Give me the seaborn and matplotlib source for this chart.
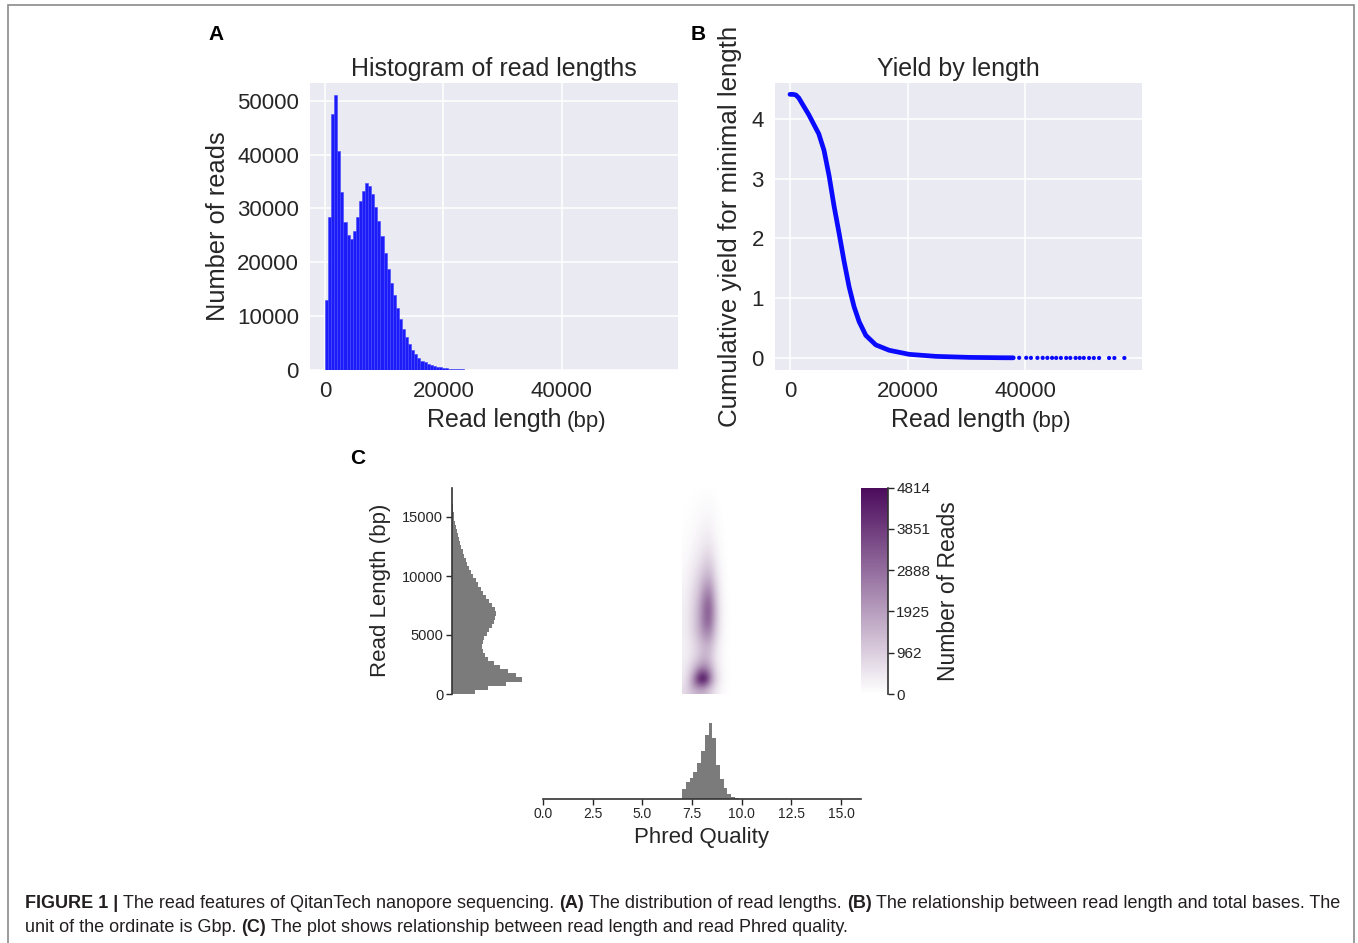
import numpy as np
import matplotlib
matplotlib.use("Agg")
import matplotlib.pyplot as plt
import seaborn as sns
from matplotlib.colors import LinearSegmentedColormap
from matplotlib.patches import Rectangle

# ------------------------------------------------------------------ data
# Panel A: histogram of read lengths (bins of 520 bp starting at 0)
read_bin_width = 520
read_counts = [13000, 28500, 47500, 51000, 40700, 33000, 27500, 25100, 24400, 25900,
               28500, 31300, 33200, 34700, 34200, 32700, 30300, 27700, 24800, 21700,
               18800, 16200, 13900, 11600, 9500, 7600, 6200, 4800, 3800, 3000,
               2300, 1700, 1400, 1100, 900, 750, 620, 500, 380, 310,
               250, 200, 160, 130, 100, 80, 60, 45, 35, 25]

# Panel B: cumulative yield (Gbp) for minimal read length
yield_length = [0, 500, 1000, 1500, 2100, 3200, 4100, 4900, 5800, 6650, 7500, 8350,
                9200, 10060, 10900, 11760, 12900, 14600, 16880, 20280, 24830, 30500,
                36000, 38000]
yield_gbp = [4.41, 4.41, 4.40, 4.35, 4.25, 4.07, 3.90, 3.75, 3.47, 3.05, 2.54, 2.09,
             1.62, 1.19, 0.86, 0.61, 0.38, 0.22, 0.13, 0.062, 0.028, 0.011,
             0.005, 0.004]
yield_tail_length = [39000, 40200, 41000, 42100, 43000, 43800, 44600, 45300, 46100,
                     47000, 47700, 48600, 49300, 50000, 50900, 51700, 52600, 54300,
                     55200, 56900]
yield_tail_gbp = [0.004, 0.004, 0.003, 0.003, 0.003, 0.003, 0.003, 0.002, 0.002,
                  0.002, 0.002, 0.002, 0.002, 0.002, 0.001, 0.001, 0.001, 0.001,
                  0.001, 0.001]

# Panel C: marginal read length histogram (bins of 350 bp from 0)
len_bin_width = 350
len_counts = [70, 110, 165, 213, 195, 170, 148, 128, 110, 100,
              95, 93, 94, 98, 106, 114, 122, 128, 131, 133,
              130, 122, 113, 104, 96, 88, 80, 73, 66, 60,
              54, 48, 43, 38, 34, 30, 26, 22, 19, 16,
              13, 11, 9, 7, 6, 4, 3, 2, 1, 1]

# Panel C: marginal Phred quality histogram
qual_bin_start = 7.0
qual_bin_width = 0.19
qual_counts = [30, 52, 64, 82, 107, 144, 192, 227, 182, 102, 59, 34, 15, 5, 2]

# Panel C: 2D density of reads, rows = read length (500 bp bins, 0-17500),
# columns = Phred quality (0.25 bins, 7.0-9.75)
hex_qual_range = [7.0, 9.75]
hex_len_range = [0, 17500]
hex_counts = [
    [700, 1100, 1400, 1600, 1500, 1100, 600, 250, 80, 20, 0],
    [600, 1300, 2200, 3000, 2900, 1900, 900, 350, 100, 30, 0],
    [500, 1200, 2600, 4400, 4814, 2900, 1200, 450, 130, 30, 0],
    [450, 1000, 2000, 3500, 3800, 2600, 1100, 400, 120, 30, 0],
    [400, 800, 1400, 2200, 2500, 1900, 900, 350, 100, 20, 0],
    [350, 600, 1000, 1500, 1800, 1500, 750, 300, 90, 20, 0],
    [300, 500, 800, 1200, 1500, 1300, 700, 280, 80, 20, 0],
    [300, 480, 750, 1100, 1450, 1400, 750, 300, 90, 20, 0],
    [300, 500, 800, 1200, 1600, 1600, 900, 350, 100, 20, 0],
    [320, 550, 900, 1400, 1900, 2000, 1100, 420, 110, 25, 0],
    [330, 600, 1000, 1600, 2300, 2400, 1300, 480, 120, 25, 0],
    [340, 620, 1050, 1700, 2600, 2800, 1500, 520, 130, 25, 0],
    [340, 620, 1050, 1750, 2800, 3100, 1650, 550, 130, 25, 0],
    [330, 610, 1050, 1750, 2850, 3200, 1700, 560, 130, 25, 0],
    [320, 590, 1000, 1700, 2800, 3200, 1700, 550, 130, 25, 0],
    [300, 560, 950, 1600, 2650, 3000, 1600, 520, 120, 20, 0],
    [280, 520, 880, 1450, 2400, 2750, 1450, 480, 110, 20, 0],
    [250, 470, 800, 1300, 2100, 2400, 1300, 430, 100, 20, 0],
    [220, 420, 700, 1150, 1800, 2050, 1100, 380, 90, 15, 0],
    [190, 370, 620, 1000, 1500, 1700, 950, 330, 80, 15, 0],
    [160, 320, 530, 850, 1250, 1400, 800, 280, 70, 10, 0],
    [140, 270, 450, 720, 1050, 1150, 670, 240, 60, 10, 0],
    [120, 230, 380, 600, 870, 950, 560, 200, 50, 10, 0],
    [100, 190, 320, 500, 720, 780, 460, 170, 40, 5, 0],
    [85, 160, 270, 410, 590, 640, 380, 140, 35, 5, 0],
    [70, 130, 220, 340, 480, 520, 310, 110, 30, 5, 0],
    [55, 105, 180, 280, 390, 420, 250, 90, 25, 0, 0],
    [45, 85, 145, 225, 315, 340, 200, 75, 20, 0, 0],
    [35, 70, 115, 180, 250, 270, 160, 60, 15, 0, 0],
    [28, 55, 90, 140, 200, 215, 130, 50, 10, 0, 0],
    [22, 42, 70, 110, 155, 170, 100, 40, 8, 0, 0],
    [17, 32, 55, 85, 120, 130, 80, 30, 6, 0, 0],
    [12, 24, 40, 65, 90, 100, 60, 22, 5, 0, 0],
    [8, 17, 28, 45, 65, 70, 42, 15, 3, 0, 0],
    [5, 10, 17, 28, 40, 45, 27, 10, 2, 0, 0],
]
cbar_ticks = [0, 962, 1925, 2888, 3851, 4814]

# ------------------------------------------------------------------ style
sns.set_theme(style="ticks")
plt.rcParams['font.family'] = ['Liberation Sans', 'DejaVu Sans']
TXT = '#262626'

W, H = 1358, 943
fig = plt.figure(figsize=(W / 100, H / 100), dpi=100)


def px_axes(x0, y0, x1, y1):
    return fig.add_axes([x0 / W, 1 - y1 / H, (x1 - x0) / W, (y1 - y0) / H])


def darkgrid(ax):
    ax.set_facecolor('#EAEAF2')
    ax.grid(True, color='white', linewidth=1.1)
    ax.set_axisbelow(True)
    for s in ax.spines.values():
        s.set_visible(False)
    ax.tick_params(length=0, labelsize=16, colors=TXT, pad=8)


# ------------------------------------------------------------------ panel A
axA = px_axes(310, 83, 678, 370)
darkgrid(axA)
edgesA = [i * read_bin_width for i in range(len(read_counts) + 1)]
centersA = [e + read_bin_width / 2 for e in edgesA[:-1]]
sns.histplot(x=centersA, weights=read_counts, bins=edgesA, color='#1c1cf8', alpha=1,
             edgecolor='#4545ff', linewidth=0.4, ax=axA)
axA.set_xlim(-2530, 59600)
axA.set_ylim(0, 53300)
axA.set_xticks([0, 20000, 40000])
axA.set_yticks(range(0, 50001, 10000))
axA.set_title('Histogram of read lengths', fontsize=18, color=TXT, pad=5)
axA.set_xlabel('Read length', fontsize=18, color=TXT, labelpad=4)
axA.set_ylabel('Number of reads', fontsize=18.3, color=TXT, labelpad=5)
axA.annotate('(bp)', xy=(1, 0), xycoords=axA.xaxis.label, xytext=(4, 0),
             textcoords='offset points', fontsize=16, color=TXT, va='bottom', ha='left')

# ------------------------------------------------------------------ panel B
axB = px_axes(775, 83, 1142, 370)
darkgrid(axB)
sns.lineplot(x=yield_length, y=yield_gbp, color='#0a0aff', linewidth=3.4,
             solid_capstyle='round', ax=axB)
sns.scatterplot(x=yield_tail_length, y=yield_tail_gbp, color='#0a0aff', s=9,
                edgecolor='none', ax=axB)
axB.set_xlim(-2550, 59900)
axB.set_ylim(-0.2, 4.6)
axB.set_xticks([0, 20000, 40000])
axB.set_yticks([0, 1, 2, 3, 4])
axB.set_title('Yield by length', fontsize=18, color=TXT, pad=5)
axB.set_xlabel('Read length', fontsize=18, color=TXT, labelpad=4)
axB.set_ylabel('Cumulative yield for minimal length', fontsize=18.6, color=TXT, labelpad=7)
axB.annotate('(bp)', xy=(1, 0), xycoords=axB.xaxis.label, xytext=(4, 0),
             textcoords='offset points', fontsize=16, color=TXT, va='bottom', ha='left')

# ------------------------------------------------------------------ panel C
cmap = LinearSegmentedColormap.from_list('reads', ['#ffffff', '#4b0b5c'])
cmap.set_under('white')

axH = px_axes(543, 487.5, 861, 694)
im = axH.imshow(np.array(hex_counts, dtype=float),
                extent=[hex_qual_range[0], hex_qual_range[1], hex_len_range[0], hex_len_range[1]],
                origin='lower', aspect='auto', cmap=cmap, vmin=0, vmax=max(cbar_ticks),
                interpolation='bicubic')
axH.set_xlim(0, 16)
axH.set_ylim(0, 17500)
axH.axis('off')

GRAY = '#7b7b7b'
# left marginal: read length
axL = px_axes(451.5, 487.5, 545, 694)
len_edges = [i * len_bin_width for i in range(len(len_counts) + 1)]
len_centers = [e + len_bin_width / 2 for e in len_edges[:-1]]
sns.histplot(y=len_centers, weights=len_counts, bins=len_edges, element='step', color=GRAY,
             alpha=1, linewidth=0, ax=axL)
axL.set_ylim(0, 17500)
axL.set_xlim(0, max(len_counts) * 93.5 / 70.5)
for s in ['top', 'right', 'bottom']:
    axL.spines[s].set_visible(False)
axL.spines['left'].set_color('#333333')
axL.spines['left'].set_linewidth(1.2)
axL.set_xticks([])
axL.set_xlabel('')
axL.set_yticks([0, 5000, 10000, 15000])
axL.tick_params(axis='y', labelsize=10.5, colors=TXT, length=4, width=1, pad=2)
axL.set_ylabel('Read Length (bp)', fontsize=16, color=TXT, labelpad=8)

# bottom marginal: Phred quality
axQ = px_axes(543, 720, 861, 799)
qual_edges = [qual_bin_start + i * qual_bin_width for i in range(len(qual_counts) + 1)]
qual_centers = [e + qual_bin_width / 2 for e in qual_edges[:-1]]
sns.histplot(x=qual_centers, weights=qual_counts, bins=qual_edges, element='step', color=GRAY,
             alpha=1, linewidth=0, ax=axQ)
axQ.set_xlim(0, 16)
axQ.set_ylim(0, max(qual_counts) * 79 / 75.7)
for s in ['top', 'right', 'left']:
    axQ.spines[s].set_visible(False)
axQ.spines['bottom'].set_color('#333333')
axQ.spines['bottom'].set_linewidth(1.2)
axQ.set_yticks([])
axQ.set_ylabel('')
qticks = np.arange(0, 15.01, 2.5)
axQ.set_xticks(qticks)
axQ.set_xticklabels([f'{t:.1f}' for t in qticks])
axQ.tick_params(axis='x', labelsize=10, colors=TXT, length=4, width=1, pad=2)
axQ.set_xlabel('Phred Quality', fontsize=16, color=TXT, labelpad=4)

# colorbar
cax = px_axes(861, 487.5, 888, 694)
cb = fig.colorbar(im, cax=cax, ticks=cbar_ticks)
cb.outline.set_visible(False)
cax.spines['right'].set_visible(True)
cax.spines['right'].set_color('#333333')
cax.spines['right'].set_linewidth(1.2)
cax.tick_params(labelsize=11, colors=TXT, length=4, width=1, pad=2)
cb.set_label('Number of Reads', fontsize=16.5, color=TXT, labelpad=5)

# ------------------------------------------------------------------ panel letters
for letter, x, y in [('A', 216, 35), ('B', 698, 35), ('C', 358, 459)]:
    fig.text(x / W, 1 - y / H, letter, fontsize=15, fontweight='bold',
             ha='center', va='center', color='black')

# ------------------------------------------------------------------ frame + caption
fig.add_artist(Rectangle((8 / W, -0.01), (1354 - 8) / W, 1.01 - 5 / H, transform=fig.transFigure,
                         fill=False, edgecolor='#8a8a8a', linewidth=1.2))

cap_lines = [
    [("FIGURE 1 |", True), ("The read features of QitanTech nanopore sequencing.", False),
     ("(A)", True), ("The distribution of read lengths.", False), ("(B)", True),
     ("The relationship between read length and total bases. The", False)],
    [("unit of the ordinate is Gbp.", False), ("(C)", True),
     ("The plot shows relationship between read length and read Phred quality.", False)],
]
cap_family = ['Liberation Sans', 'DejaVu Sans']
renderer = fig.canvas.get_renderer()


def text_w(s, size, bold):
    t = fig.text(0, 0, s, fontsize=size, fontweight='bold' if bold else 'normal', family=cap_family)
    w = t.get_window_extent(renderer).width
    t.remove()
    return w


def line_width(runs, size):
    sp = text_w('x x', size, False) - text_w('xx', size, False)
    return sum(text_w(s, size, b) for s, b in runs) + sp * (len(runs) - 1)


base = 12.0
target = 1340 - 25
size = base * target / line_width(cap_lines[0], base)
space = text_w('x x', size, False) - text_w('xx', size, False)
for runs, yb in zip(cap_lines, [908, 932]):
    x = 25
    for s, b in runs:
        t = fig.text(x / W, 1 - yb / H, s, fontsize=size, fontweight='bold' if b else 'normal',
                     family=cap_family, color='#231f20', ha='left', va='baseline')
        x = t.get_window_extent(renderer).x1 + space

fig.savefig('out.png', dpi=100)
